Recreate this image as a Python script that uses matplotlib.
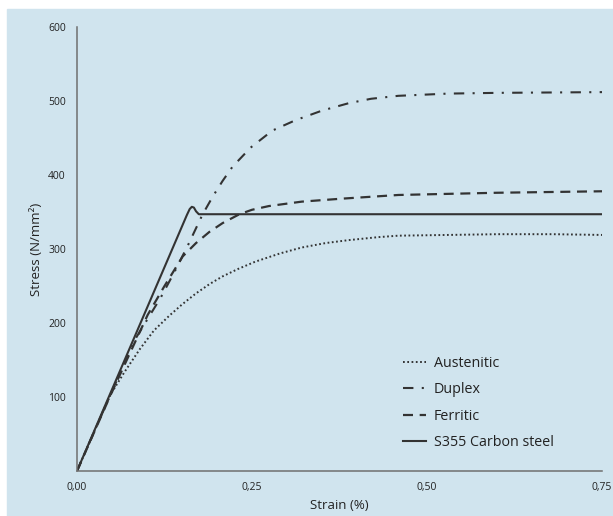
import matplotlib
matplotlib.use('Agg')
import matplotlib.pyplot as plt
from matplotlib.patches import Rectangle

# Curvas tension-deformacion
austenitic_strain = [0, 0.04, 0.049, 0.068, 0.09, 0.11, 0.132, 0.15, 0.17, 0.19, 0.208, 0.23, 0.255, 0.29, 0.321, 0.355, 0.388, 0.43, 0.459, 0.53, 0.601, 0.68, 0.75]
austenitic_stress = [0, 87, 105, 134, 165, 190, 210, 225, 240, 253, 263, 273, 283, 294, 302, 308, 312, 316, 318, 319, 320, 320, 319]

duplex_strain = [0, 0.05, 0.085, 0.12, 0.142, 0.16, 0.17, 0.179, 0.194, 0.208, 0.222, 0.248, 0.279, 0.312, 0.35, 0.388, 0.42, 0.459, 0.53, 0.6, 0.75]
duplex_stress = [0, 108, 181, 235, 274, 308, 328, 346, 371, 392, 411, 437, 460, 474, 487, 497, 503, 507, 510, 511, 512]

ferritic_strain = [0, 0.05, 0.101, 0.125, 0.151, 0.17, 0.189, 0.208, 0.232, 0.25, 0.274, 0.321, 0.378, 0.459, 0.6, 0.75]
ferritic_stress = [0, 107, 211, 250, 290, 308, 323, 335, 347, 353, 358, 364, 368, 373, 376, 378]

s355_strain = [0, 0.157, 0.161, 0.164, 0.167, 0.170, 0.174, 0.178, 0.75]
s355_stress = [0, 346, 354, 357, 356, 351, 347, 347, 347]

x_ticks = [0, 0.25, 0.5, 0.75]
x_labels = ['0,00', '0,25', '0,50', '0,75']
y_ticks = [100, 200, 300, 400, 500, 600]

fondo = '#d0e4ee'
tinta = '#333333'
eje = '#6f6f6f'
fuente = ['Open Sans', 'DejaVu Sans']

fig = plt.figure(figsize=(6.13, 5.16), dpi=100, facecolor='white')
fig.patches.append(Rectangle((7 / 613, 0), 1 - 7 / 613, 1 - 9 / 516,
                             transform=fig.transFigure, color=fondo, zorder=-10))
ax = fig.add_axes([77 / 613, 45 / 516, (602 - 77) / 613, (471 - 27) / 516])
ax.set_facecolor('none')

ax.plot(austenitic_strain, austenitic_stress, color=tinta, lw=1.4,
        linestyle=(0, (0.9, 1.3)), label='Austenitic')
ax.plot(duplex_strain, duplex_stress, color=tinta, lw=1.5,
        linestyle=(0, (5, 4, 1, 4)), label='Duplex')
ax.plot(ferritic_strain, ferritic_stress, color=tinta, lw=1.6,
        linestyle=(0, (4.5, 3)), label='Ferritic')
ax.plot(s355_strain, s355_stress, color=tinta, lw=1.5, label='S355 Carbon steel')

ax.set_xlim(0, 0.75)
ax.set_ylim(0, 600)
ax.set_xticks(x_ticks)
ax.set_xticklabels(x_labels)
ax.set_yticks(y_ticks)
ax.tick_params(length=0, labelsize=7.5, labelcolor='#222222', pad=8)
for lab in ax.get_xticklabels() + ax.get_yticklabels():
    lab.set_family(fuente)

for lado in ['top', 'right']:
    ax.spines[lado].set_visible(False)
for lado in ['left', 'bottom']:
    ax.spines[lado].set_color(eje)
    ax.spines[lado].set_linewidth(1.1)

ax.set_xlabel('Strain (%)', fontsize=9.5, family=fuente, color='#222222', labelpad=4)
ax.set_ylabel('Stress (N/mm²)', fontsize=9.5, family=fuente, color='#222222', labelpad=4)

leg = ax.legend(loc='lower left', bbox_to_anchor=(0.596, 0.019), frameon=False,
                prop={'family': fuente, 'size': 10.3}, handlelength=1.6,
                handletextpad=0.55, labelspacing=0.78)
for t in leg.get_texts():
    t.set_color('#222222')

plt.savefig('out.png', dpi=100)
